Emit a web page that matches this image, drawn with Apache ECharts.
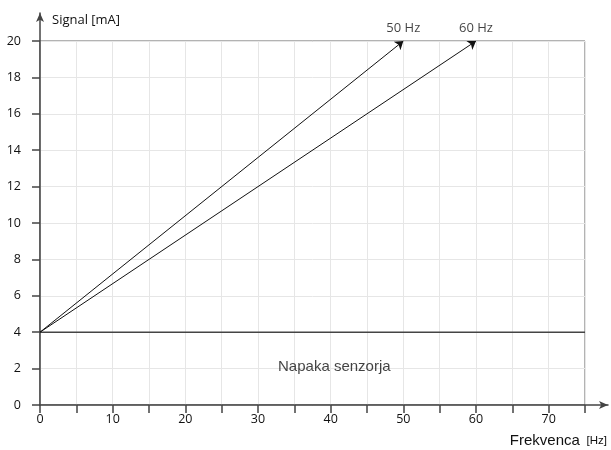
<!DOCTYPE html>
<html>
<head>
<meta charset="utf-8">
<script src="https://cdn.jsdelivr.net/npm/echarts@6/dist/echarts.min.js"></script>
<style>
  html, body { margin: 0; padding: 0; background: #fff; }
  #main { width: 611px; height: 450px; }
</style>
</head>
<body>
<div id="main"></div>
<script>
// data
var freqs = [50, 60];
var freqLabels = ['50 Hz', '60 Hz'];
var signalStart = 4;   // mA at 0 Hz
var signalEnd = 20;    // mA at full frequency
var faultLevel = 4;    // below this -> sensor fault
var xMax = 75;
var yMax = 20;
var faultText = 'Napaka senzorja';
var faultPos = [40.5, 2.1];

var chart = echarts.init(document.getElementById('main'), null, { renderer: 'canvas' });

var tickFont = { fontFamily: 'Open Sans', fontSize: 12.5, color: '#111' };

var arrowData = [];
for (var i in freqs) {
  arrowData.push({ coords: [[0, signalStart], [freqs[i], signalEnd]] });
}
var labelData = [];
for (var i in freqs) {
  labelData.push({ value: [freqs[i], signalEnd], name: freqLabels[i] });
}

var option = {
  animation: false,
  grid: [
    { left: 40, right: 26, top: 41, bottom: 45, show: true, borderColor: '#666', borderWidth: 1 },
    { left: 40, right: 3, top: 13, bottom: 45 }
  ],
  xAxis: [
    {
      type: 'value', gridIndex: 0, min: 0, max: xMax, interval: 5,
      axisLine: { show: false },
      axisTick: { show: true, length: 8, lineStyle: { color: '#444', width: 1.5 } },
      axisLabel: Object.assign({
        margin: 8,
        formatter: function (v) { return v % 10 === 0 ? String(v) : ''; }
      }, tickFont),
      splitLine: { show: true, lineStyle: { color: '#e6e6e6', width: 1 } }
    },
    {
      type: 'value', gridIndex: 1, min: 0, max: 78,
      axisLine: { show: true, symbol: ['none', 'arrow'], symbolSize: [6, 9], lineStyle: { color: '#444', width: 1.5 } },
      axisTick: { show: false }, axisLabel: { show: false }, splitLine: { show: false },
      name: '{a|Frekvenca}  {b|[Hz]}',
      nameLocation: 'end',
      nameGap: -1,
      nameTextStyle: {
        align: 'right', verticalAlign: 'top', padding: [28, 0, 0, 0],
        rich: {
          a: { fontFamily: 'Liberation Sans', fontSize: 15, color: '#111' },
          b: { fontFamily: 'Liberation Sans', fontSize: 11.5, color: '#111' }
        }
      }
    }
  ],
  yAxis: [
    {
      type: 'value', gridIndex: 0, min: 0, max: yMax, interval: 2,
      axisLine: { show: false },
      axisTick: { show: true, length: 8, lineStyle: { color: '#444', width: 1.5 } },
      axisLabel: Object.assign({ margin: 19 }, tickFont),
      splitLine: { show: true, lineStyle: { color: '#e6e6e6', width: 1 } },
      name: 'Signal [mA]',
      nameLocation: 'end',
      nameGap: 14,
      nameTextStyle: { align: 'left', padding: [0, 0, 0, 12], fontFamily: 'Open Sans', fontSize: 13, color: '#111' }
    },
    {
      type: 'value', gridIndex: 1, min: 0, max: 21.5,
      axisLine: { show: true, symbol: ['none', 'arrow'], symbolSize: [6, 9], lineStyle: { color: '#444', width: 1.5 } },
      axisTick: { show: false }, axisLabel: { show: false }, splitLine: { show: false }
    }
  ],
  series: [
    {
      name: 'fault',
      type: 'line',
      xAxisIndex: 0, yAxisIndex: 0,
      symbol: 'none',
      lineStyle: { color: '#444', width: 1.5 },
      data: [[0, faultLevel], [xMax, faultLevel]],
      z: 3
    },
    {
      name: 'arrows',
      type: 'lines',
      coordinateSystem: 'cartesian2d',
      xAxisIndex: 0, yAxisIndex: 0,
      symbol: ['none', 'arrow'],
      symbolSize: 8,
      lineStyle: { color: '#111', width: 1, opacity: 1 },
      data: arrowData,
      z: 4
    },
    {
      name: 'labels',
      type: 'scatter',
      xAxisIndex: 0, yAxisIndex: 0,
      symbolSize: 0,
      label: {
        show: true, position: 'top', distance: 6,
        formatter: function (p) { return p.name; },
        fontFamily: 'Open Sans', fontSize: 13, color: '#111'
      },
      data: labelData
    },
    {
      name: 'faultText',
      type: 'scatter',
      xAxisIndex: 0, yAxisIndex: 0,
      symbolSize: 0,
      label: {
        show: true, position: 'inside',
        formatter: faultText,
        fontFamily: 'Liberation Sans', fontSize: 15, color: '#111'
      },
      data: [faultPos]
    }
  ]
};

chart.setOption(option);
</script>
</body>
</html>
